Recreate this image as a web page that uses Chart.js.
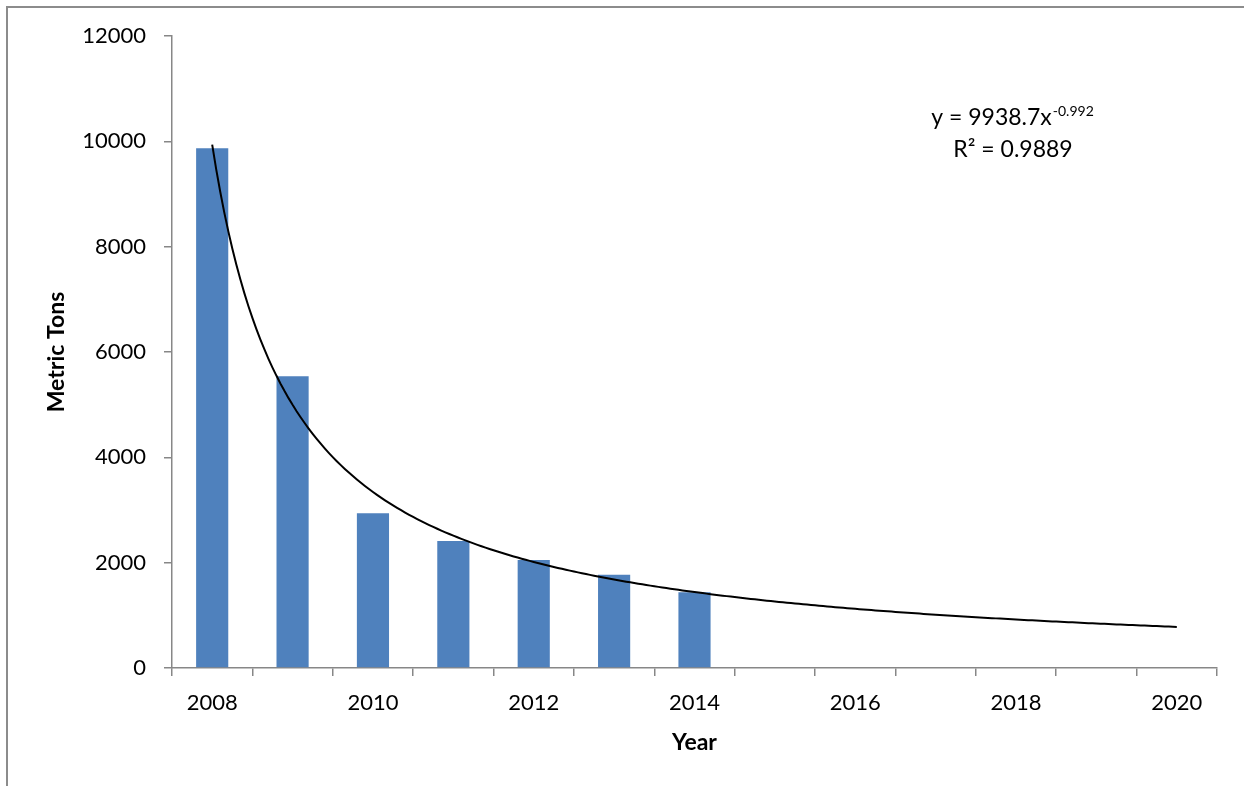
<!DOCTYPE html>
<html>
<head>
<meta charset="utf-8">
<script src="https://cdn.jsdelivr.net/npm/chart.js@4"></script>
<style>
  html, body { margin: 0; padding: 0; background: #fff; }
  #wrap { position: relative; width: 1244px; height: 786px; }
</style>
</head>
<body>
<div id="wrap"><canvas id="chart" width="1244" height="786"></canvas></div>
<script>
// Annual tonnage by year (2015–2020 are projection years with no bars)
const years = ['2008','2009','2010','2011','2012','2013','2014','2015','2016','2017','2018','2019','2020'];
const metricTons = [9870, 5540, 2940, 2410, 2050, 1770, 1440, null, null, null, null, null, null];
const yTicks = [0, 2000, 4000, 6000, 8000, 10000, 12000];

// Power trendline: y = a * x^b, x = 1 for the first year
const TREND_COEF = 9938.7;
const TREND_EXP = -0.992;
const TREND_R2 = 0.9889;
const TREND_X_FIRST = 1;
const TREND_X_LAST = years.length;
const TREND_STEP = 0.05;

const trendPoints = [];
for (let x = TREND_X_FIRST; x <= TREND_X_LAST + 1e-9; x += TREND_STEP) {
  trendPoints.push({ x: x, y: TREND_COEF * Math.pow(x, TREND_EXP) });
}

const FONT = 'Lato, "Open Sans", sans-serif';
const AXIS_GREY = '#878787';

// Frame along the top and left edges plus the fitted equation text
const decorations = {
  id: 'decorations',
  beforeDraw(chart) {
    const ctx = chart.ctx;
    ctx.save();
    ctx.strokeStyle = '#8c8c8c';
    ctx.lineWidth = 2;
    ctx.beginPath();
    ctx.moveTo(7, 786);
    ctx.lineTo(7, 7);
    ctx.lineTo(1244, 7);
    ctx.stroke();
    ctx.restore();
  },
  afterDraw(chart) {
    const ctx = chart.ctx;
    ctx.save();
    ctx.fillStyle = '#000';
    ctx.textBaseline = 'alphabetic';
    // line 1: y = 9938.7x^-0.992
    const main = 'y = ' + TREND_COEF.toFixed(1) + 'x';
    const sup = String(TREND_EXP);
    ctx.font = '23px ' + FONT;
    const wMain = ctx.measureText(main).width;
    ctx.font = '14px ' + FONT;
    const wSup = ctx.measureText(sup).width;
    const cx = 1012;
    const x0 = cx - (wMain + wSup) / 2;
    ctx.font = '23px ' + FONT;
    ctx.textAlign = 'left';
    ctx.fillText(main, x0, 125);
    ctx.font = '14px ' + FONT;
    ctx.fillText(sup, x0 + wMain + 1, 116);
    // line 2: R² = 0.9889
    ctx.font = '23px ' + FONT;
    ctx.textAlign = 'center';
    ctx.fillText('R\u00B2 = ' + TREND_R2.toFixed(4), 1013, 157);
    ctx.restore();
  }
};

new Chart(document.getElementById('chart'), {
  type: 'bar',
  data: {
    labels: years,
    datasets: [
      {
        type: 'bar',
        label: 'Metric Tons',
        data: metricTons,
        backgroundColor: '#4F81BD',
        borderWidth: 0,
        grouped: false,
        categoryPercentage: 1.0,
        barPercentage: 0.4,
        xAxisID: 'x',
        yAxisID: 'y',
        order: 2
      },
      {
        type: 'line',
        label: 'Power trend',
        data: trendPoints,
        borderColor: '#000',
        borderWidth: 2,
        pointRadius: 0,
        tension: 0,
        fill: false,
        xAxisID: 'xt',
        yAxisID: 'y',
        order: 1
      }
    ]
  },
  options: {
    responsive: false,
    animation: false,
    events: [],
    layout: { padding: { left: 0, top: 36, right: 27, bottom: 0 } },
    plugins: {
      legend: { display: false },
      tooltip: { enabled: false }
    },
    scales: {
      x: {
        type: 'category',
        offset: true,
        afterFit(scale) { scale.height = 118; },
        grid: {
          offset: true,
          drawOnChartArea: false,
          drawTicks: true,
          tickLength: 8,
          color: AXIS_GREY,
          lineWidth: 1.5
        },
        border: { color: AXIS_GREY, width: 1.5 },
        ticks: {
          autoSkip: false,
          maxRotation: 0,
          padding: 14,
          color: '#000',
          font: { family: FONT, size: 22 },
          callback(value, index) { return index % 2 === 0 ? years[index] : ''; }
        },
        title: {
          display: true,
          text: 'Year',
          color: '#000',
          font: { family: FONT, size: 23, weight: 'bold', lineHeight: 1.2 },
          padding: { top: 0, bottom: 30 }
        }
      },
      // hidden numeric axis spanning the same slots as the year categories
      xt: {
        type: 'linear',
        display: false,
        offset: false,
        grid: { offset: false },
        min: 0.5,
        max: years.length + 0.5
      },
      y: {
        type: 'linear',
        min: 0,
        max: 12000,
        afterFit(scale) { scale.width = 172; },
        afterBuildTicks(scale) { scale.ticks = yTicks.map(v => ({ value: v })); },
        grid: {
          drawOnChartArea: false,
          drawTicks: true,
          tickLength: 8,
          color: AXIS_GREY,
          lineWidth: 1.5
        },
        border: { color: AXIS_GREY, width: 1.5 },
        ticks: {
          padding: 18,
          color: '#000',
          font: { family: FONT, size: 22 },
          callback(value) { return String(value); }
        },
        title: {
          display: true,
          text: 'Metric Tons',
          color: '#000',
          font: { family: FONT, size: 23, weight: 'bold', lineHeight: 1.2 },
          padding: { top: 43, bottom: 0 }
        }
      }
    }
  },
  plugins: [decorations]
});
</script>
</body>
</html>
